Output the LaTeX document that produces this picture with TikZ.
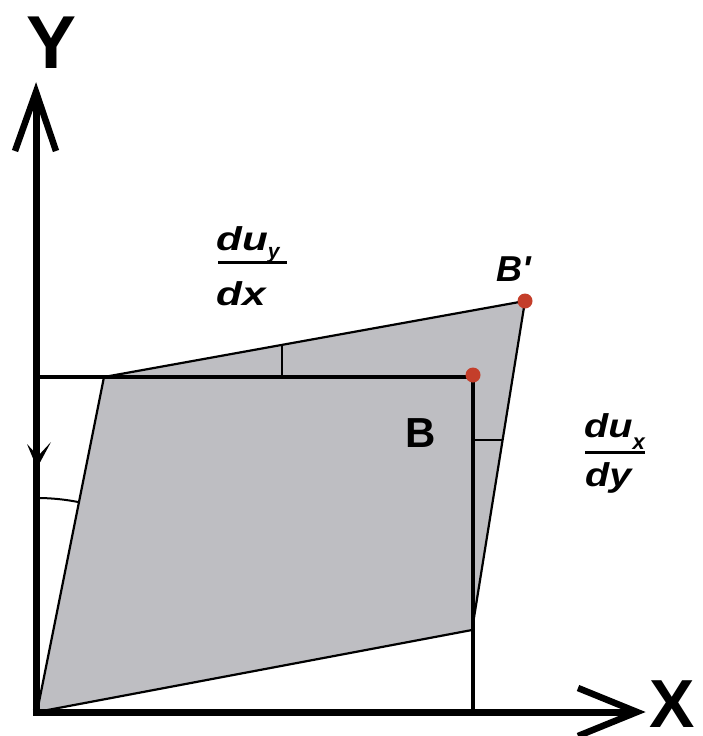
\documentclass[tikz,border=0pt]{standalone}
\usepackage{fontspec}
\setmainfont{Liberation Sans}
\usetikzlibrary{calc}
\definecolor{panelgray}{RGB}{190,190,194}
\definecolor{dotred}{RGB}{196,62,42}
\tikzset{
  axisline/.style={line width=7pt, line cap=butt},
  headline/.style={line width=6.5pt, line join=miter, miter limit=20},
  sqline/.style={line width=4.2pt},
  edgeline/.style={line width=2.2pt, line join=round},
  thinline/.style={line width=1.5pt},
  lbl/.style={inner sep=0pt, anchor=base},
  fracnum/.style={inner sep=0pt, anchor=base west, font=\fontsize{33}{33}\selectfont\bfseries\itshape},
  reddot/.style={circle, fill=dotred, inner sep=0pt, minimum size=15pt}
}
\begin{document}
\begin{tikzpicture}[x=1pt,y=-1pt]
\useasboundingbox (0,0) rectangle (702,736);
% deformed shape
\coordinate (O) at (37,712);
\coordinate (A) at (104,377);
\coordinate (Bp) at (525,301);
\coordinate (C) at (472,630);
\fill[panelgray] (O) -- (A) -- (Bp) -- (C) -- cycle;
\draw[edgeline] (O) -- (A) -- (Bp) -- (C) -- cycle;
% original square
\coordinate (TL) at (37,377);
\coordinate (B) at (473,377);
\coordinate (BR) at (473,712);
\draw[sqline] (TL) -- (B) -- (BR);
% small tick lines
\coordinate (t1a) at (282,377);
\coordinate (t1b) at (282,345);
\coordinate (t2a) at (473,440);
\coordinate (t2b) at (502,440);
\draw[thinline] (t1a) -- (t1b);
\draw[thinline] (t2a) -- (t2b);
% angle arc
\draw[line width=2pt] (37,498) arc[start angle=90, end angle=78.7, radius=214pt];
% axes
\coordinate (Ytip) at (36,92);
\coordinate (Xtip) at (637,712);
\draw[axisline] (36,715.5) -- (36,100);
\draw[axisline] (32.5,712) -- (630,712);
\draw[headline] (15,151) -- (Ytip) -- (56,151);
\draw[headline] (578,688) -- (Xtip) -- (578,736);
% small arrowhead on Y axis
\fill (27,444) -- (37,468) -- (51,442) -- (38,456) -- cycle;
% red dots
\node[reddot] (dB) at (473,375) {};
\node[reddot] (dBp) at (525,301) {};
% labels
\node[lbl, font=\fontsize{75}{75}\selectfont\bfseries] (Ylab) at (52,68) {Y};
\node[lbl, font=\fontsize{68}{68}\selectfont\bfseries] (Xlab) at (672,727) {X};
\node[lbl, font=\fontsize{42}{42}\selectfont\bfseries] (Blab) at (421,447) {B};
\node[inner sep=0pt, anchor=base west, font=\fontsize{36}{36}\selectfont\bfseries\itshape] (Bplab) at (496,281) {B\textquotesingle};
% fraction du_y/dx
\node[fracnum] (nL) at (216,250) {\scalebox{1.28}[1]{du}\raisebox{-8pt}{\fontsize{21}{21}\selectfont y}};
\node[fracnum] (dL) at (216,305) {\scalebox{1.28}[1]{dx}};
\draw[line width=3pt] (218,262) -- (287,262);
% fraction du_x/dy
\node[fracnum] (nR) at (584,437) {\scalebox{1.2}[1]{du}\raisebox{-12pt}{\fontsize{22}{22}\selectfont x}};
\node[fracnum] (dR) at (585,486) {\scalebox{1.2}[1]{dy}};
\draw[line width=3pt] (585,452) -- (645,452);
\end{tikzpicture}
\end{document}
